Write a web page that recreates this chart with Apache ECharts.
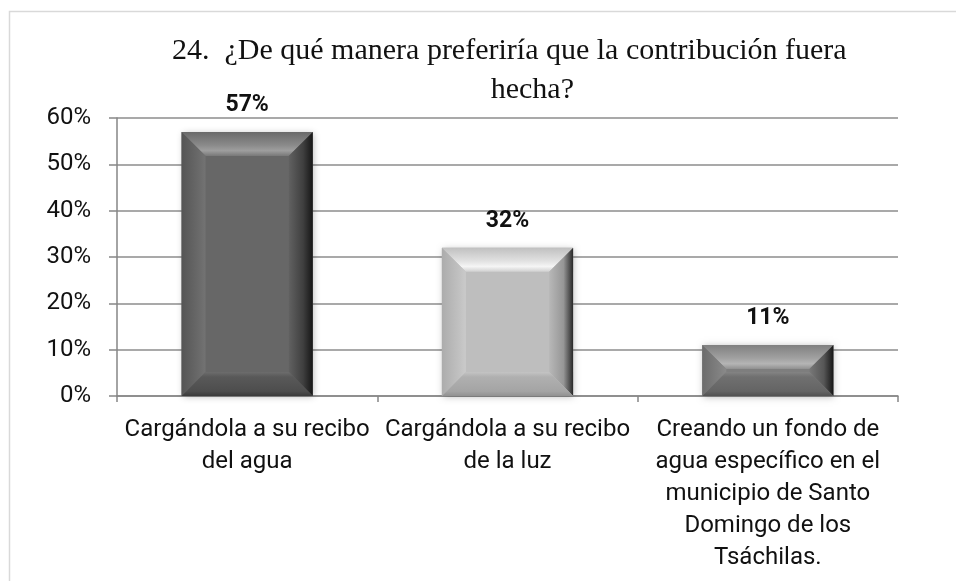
<!DOCTYPE html>
<html>
<head>
<meta charset="utf-8">
<script src="https://cdn.jsdelivr.net/npm/echarts@6/dist/echarts.min.js"></script>
<style>
  html, body { margin: 0; padding: 0; background: #ffffff; }
  #chart { width: 956px; height: 581px; }
</style>
</head>
<body>
<div id="chart"></div>
<script>
// Survey question 24: preferred way of collecting the contribution
var titleLine1 = '24.  ¿De qué manera preferiría que la contribución fuera';
var titleLine2 = 'hecha?';

var categories = [
  'Cargándola a su recibo\ndel agua',
  'Cargándola a su recibo\nde la luz',
  'Creando un fondo de\nagua específico en el\nmunicipio de Santo\nDomingo de los\nTsáchilas.'
];
var percentages = [57, 32, 11];

var yTicksMin = 0;
var yTicksMax = 60;
var yTicksStep = 10;

// base grey level of each bevelled bar
var barGreys = [103, 190, 126];

function grey(g) {
  g = Math.max(0, Math.min(255, Math.round(g)));
  return 'rgb(' + g + ',' + g + ',' + g + ')';
}

var chart = echarts.init(document.getElementById('chart'), null, { renderer: 'canvas' });

function renderBevelBar(params, api) {
  var idx = api.value(0);
  var val = api.value(1);
  var top = api.coord([idx, val]);
  var base = api.coord([idx, 0]);
  var band = api.size([1, 0])[0];
  var w = band * 0.504;
  var x0 = top[0] - w / 2, x1 = top[0] + w / 2;
  var yT = top[1], yB = base[1];
  var h = yB - yT;
  var d = Math.min(24, h / 2, w / 2);
  var g = barGreys[params.dataIndex];
  var LG = echarts.graphic.LinearGradient;

  var children = [
    { // soft drop shadow under the block
      type: 'rect',
      shape: { x: x0, y: yT, width: w, height: h },
      style: { fill: grey(g), shadowBlur: 7, shadowColor: 'rgba(0,0,0,0.28)', shadowOffsetX: 1, shadowOffsetY: 1 }
    },
    { // flat face
      type: 'rect',
      shape: { x: x0 + d, y: yT + d, width: w - 2 * d, height: h - 2 * d },
      style: { fill: grey(g) }
    },
    { // top bevel
      type: 'polygon',
      shape: { points: [[x0, yT], [x1, yT], [x1 - d, yT + d], [x0 + d, yT + d]] },
      style: { fill: new LG(0, 0, 0, 1, [
        { offset: 0, color: grey(g + 2) },
        { offset: 0.55, color: grey(g + 35) },
        { offset: 0.78, color: grey(g + 55) },
        { offset: 1, color: grey(g + 18) }
      ]) }
    },
    { // left bevel
      type: 'polygon',
      shape: { points: [[x0, yT], [x0 + d, yT + d], [x0 + d, yB - d], [x0, yB]] },
      style: { fill: new LG(0, 0, 1, 0, [
        { offset: 0, color: grey(g - 18) },
        { offset: 0.75, color: grey(g + 4) },
        { offset: 1, color: grey(g + 12) }
      ]) }
    },
    { // right bevel
      type: 'polygon',
      shape: { points: [[x1, yT], [x1 - d, yT + d], [x1 - d, yB - d], [x1, yB]] },
      style: { fill: new LG(0, 0, 1, 0, [
        { offset: 0, color: grey(g - 6) },
        { offset: 0.6, color: grey(g - 40) },
        { offset: 1, color: grey(Math.max(22, g - 150)) }
      ]) }
    },
    { // bottom bevel
      type: 'polygon',
      shape: { points: [[x0 + d, yB - d], [x1 - d, yB - d], [x1, yB], [x0, yB]] },
      style: { fill: new LG(0, 0, 0, 1, [
        { offset: 0, color: grey(g + 6) },
        { offset: 0.2, color: grey(g - 14) },
        { offset: 0.8, color: grey(g - 26) },
        { offset: 1, color: grey(g - 45) }
      ]) }
    },
    { // value label above the bar
      type: 'text',
      style: {
        text: val + '%',
        x: top[0],
        y: yT - 15,
        align: 'center',
        verticalAlign: 'bottom',
        font: 'bold 23px Roboto',
        fill: '#111111'
      }
    }
  ];
  return { type: 'group', children: children };
}

var option = {
  backgroundColor: '#ffffff',
  animation: false,
  grid: { left: 117, right: 58, top: 118, bottom: 185 },
  graphic: [
    {
      type: 'rect',
      silent: true,
      shape: { x: 9.5, y: 11.5, width: 1000, height: 1000 },
      style: { fill: null, stroke: '#d9d9d9', lineWidth: 1.5 }
    },
    {
      type: 'text',
      left: null,
      x: 172, y: 51,
      style: {
        text: titleLine1,
        font: '30px "Liberation Serif"',
        fill: '#111111',
        align: 'left',
        verticalAlign: 'middle'
      }
    },
    {
      type: 'text',
      x: 574, y: 90,
      style: {
        text: titleLine2,
        font: '30px "Liberation Serif"',
        fill: '#111111',
        align: 'right',
        verticalAlign: 'middle'
      }
    }
  ],
  xAxis: {
    type: 'category',
    data: categories,
    axisLine: { lineStyle: { color: '#868686', width: 1.5 } },
    axisTick: { show: true, length: 6, lineStyle: { color: '#868686', width: 1.5 } },
    axisLabel: {
      interval: 0,
      margin: 18,
      fontFamily: 'Roboto',
      fontSize: 24,
      lineHeight: 32,
      color: '#111111'
    },
    splitLine: { show: false }
  },
  yAxis: {
    type: 'value',
    min: yTicksMin,
    max: yTicksMax,
    interval: yTicksStep,
    axisLine: { show: true, lineStyle: { color: '#868686', width: 1.5 } },
    axisTick: { show: true, length: 8, lineStyle: { color: '#868686', width: 1.5 } },
    axisLabel: {
      formatter: '{value}%',
      margin: 26,
      fontFamily: 'Roboto',
      fontSize: 24,
      color: '#111111'
    },
    splitLine: { lineStyle: { color: '#8c8c8c', width: 1.5 } }
  },
  series: [{
    type: 'custom',
    renderItem: renderBevelBar,
    encode: { x: 0, y: 1 },
    data: percentages.map(function (v, i) { return [i, v]; }),
    z: 3
  }]
};

chart.setOption(option);
</script>
</body>
</html>
